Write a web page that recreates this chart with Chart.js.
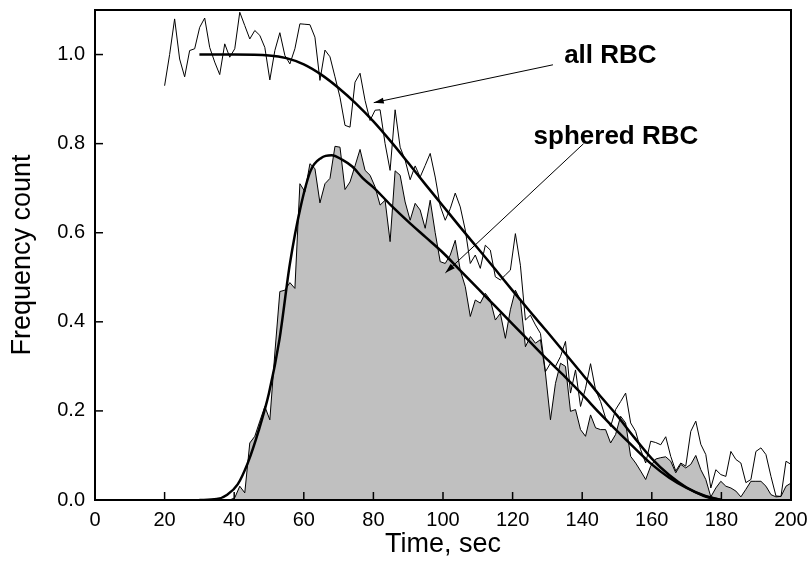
<!DOCTYPE html>
<html>
<head>
<meta charset="utf-8">
<script src="https://cdn.jsdelivr.net/npm/chart.js@4.4.1/dist/chart.umd.min.js"></script>
<style>
  html, body { margin: 0; padding: 0; background: #fff; }
</style>
</head>
<body>
<canvas id="myChart" width="810" height="562"></canvas>
<script>
// 측정 시간 (sec)
const times = [
  20.00, 21.44, 22.88, 24.32, 25.76, 27.20, 28.64, 30.08, 31.52, 32.96,
  34.40, 35.84, 37.28, 38.72, 40.16, 41.60, 43.04, 44.48, 45.92, 47.36,
  48.80, 50.24, 51.68, 53.12, 54.56, 56.00, 57.44, 58.88, 60.32, 61.76,
  63.20, 64.64, 66.08, 67.52, 68.96, 70.40, 71.84, 73.28, 74.72, 76.16,
  77.60, 79.04, 80.48, 81.92, 83.36, 84.80, 86.24, 87.68, 89.12, 90.56,
  92.00, 93.44, 94.88, 96.32, 97.76, 99.20, 100.64, 102.08, 103.52, 104.96,
  106.40, 107.84, 109.28, 110.72, 112.16, 113.60, 115.04, 116.48, 117.92, 119.36,
  120.80, 122.24, 123.68, 125.12, 126.56, 128.00, 129.44, 130.88, 132.32, 133.76,
  135.20, 136.64, 138.08, 139.52, 140.96, 142.40, 143.84, 145.28, 146.72, 148.16,
  149.60, 151.04, 152.48, 153.92, 155.36, 156.80, 158.24, 159.68, 161.12, 162.56,
  164.00, 165.44, 166.88, 168.32, 169.76, 171.20, 172.64, 174.08, 175.52, 176.96,
  178.40, 179.84, 181.28, 182.72, 184.16, 185.60, 187.04, 188.48, 189.92, 191.36,
  192.80, 194.24, 195.68, 197.12, 198.56, 200.00
];

// all RBC (noisy)
const allRbc = [
  0.93, 1.0, 1.08, 0.99, 0.95, 1.009, 1.013, 1.061, 1.082, 1.016,
  0.983, 0.955, 1.024, 0.994, 1.013, 1.095, 1.065, 1.035, 1.054, 1.043,
  1.016, 0.943, 1.009, 1.049, 0.998, 0.979, 1.013, 1.069, 1.068, 1.067,
  1.039, 0.942, 1.01, 0.995, 0.95, 0.904, 0.841, 0.837, 0.938, 0.958,
  0.897, 0.852, 0.875, 0.876, 0.80, 0.74, 0.876, 0.792, 0.763, 0.719,
  0.75, 0.725, 0.751, 0.778, 0.725, 0.66, 0.628, 0.654, 0.689, 0.658,
  0.606, 0.531, 0.55, 0.52, 0.572, 0.561, 0.501, 0.494, 0.505, 0.516,
  0.598, 0.527, 0.404, 0.415, 0.393, 0.374, 0.288, 0.307, 0.30, 0.322,
  0.356, 0.24, 0.292, 0.21, 0.251, 0.306, 0.247, 0.221, 0.184, 0.165,
  0.203, 0.221, 0.24, 0.173, 0.154, 0.113, 0.083, 0.132, 0.129, 0.124,
  0.142, 0.098, 0.065, 0.083, 0.076, 0.154, 0.177, 0.125, 0.102, 0.027,
  0.068, 0.057, 0.053, 0.109, 0.091, 0.083, 0.039, 0.046, 0.109, 0.117,
  0.102, 0.053, 0.009, 0.008, 0.087, 0.08
];

// sphered RBC (noisy, 회색 영역)
const spheredRbc = [
  0, 0, 0, 0, 0, 0, 0, 0, 0, 0,
  0, 0, 0, 0, 0.005, 0.031, 0.016, 0.128, 0.143, 0.177,
  0.21, 0.18, 0.33, 0.468, 0.471, 0.488, 0.475, 0.71, 0.692, 0.755,
  0.744, 0.667, 0.71, 0.722, 0.794, 0.792, 0.697, 0.714, 0.75, 0.787,
  0.74, 0.729, 0.703, 0.662, 0.673, 0.58, 0.739, 0.729, 0.669, 0.628,
  0.666, 0.651, 0.61, 0.673, 0.60, 0.535, 0.531, 0.55, 0.583, 0.516,
  0.479, 0.412, 0.449, 0.442, 0.464, 0.449, 0.404, 0.419, 0.363, 0.427,
  0.471, 0.449, 0.344, 0.367, 0.352, 0.36, 0.285, 0.18, 0.262, 0.307,
  0.30, 0.199, 0.203, 0.158, 0.143, 0.191, 0.162, 0.158, 0.158, 0.128,
  0.147, 0.188, 0.173, 0.098, 0.083, 0.065, 0.046, 0.076, 0.092, 0.095,
  0.097, 0.087, 0.061, 0.08, 0.072, 0.08, 0.1, 0.068, 0.046, 0.007,
  0.027, 0.042, 0.031, 0.027, 0.02, 0.007, 0.024, 0.042, 0.042, 0.042,
  0.031, 0.012, 0.007, 0.008, 0.031, 0.038
];

// 피팅 곡선
const fitAllTimes = [30, 40, 50, 55, 60, 65, 70, 75, 80, 85, 90, 95, 100, 105, 110, 115, 120,
  125, 130, 135, 140, 145, 150, 155, 160, 165, 170, 175, 180];
const fitAll = [1.0, 1.0, 0.998, 0.992, 0.978, 0.955, 0.925, 0.89, 0.85, 0.805, 0.757, 0.708,
  0.66, 0.612, 0.565, 0.518, 0.47, 0.423, 0.377, 0.33, 0.283, 0.235, 0.19, 0.14, 0.093,
  0.056, 0.028, 0.009, 0.0];

const fitSphTimes = [30, 35, 38, 41, 44, 47, 50, 53, 56, 59, 62, 65, 68, 71, 74, 77, 80, 85, 90,
  95, 100, 105, 110, 115, 120, 125, 130, 135, 140, 145, 150, 155, 160, 165, 170, 175, 180];
const fitSph = [0, 0.002, 0.012, 0.035, 0.085, 0.155, 0.24, 0.36, 0.53, 0.655, 0.74, 0.768,
  0.774, 0.764, 0.748, 0.722, 0.702, 0.662, 0.625, 0.59, 0.555, 0.515, 0.475, 0.435, 0.395,
  0.355, 0.315, 0.277, 0.237, 0.195, 0.155, 0.117, 0.08, 0.05, 0.027, 0.01, 0];

// 눈금
const xTicks = [0, 20, 40, 60, 80, 100, 120, 140, 160, 180, 200];
const yTicks = [0, 0.2, 0.4, 0.6, 0.8, 1.0];

// 라벨 + 화살표 (데이터 좌표)
const notes = [
  { text: 'all RBC', at: [148.1, 0.997], from: [131.6, 0.977], to: [80.1, 0.892] },
  { text: 'sphered RBC', at: [149.7, 0.816], from: [140.4, 0.80], to: [100.7, 0.51] }
];

function pts(xs, ys) {
  return xs.map(function (x, i) { return { x: x, y: ys[i] }; });
}

const FONT = "'Liberation Sans', Arial, sans-serif";

const framePlugin = {
  id: 'frame',
  afterDatasetsDraw(chart) {
    const ctx = chart.ctx;
    const a = chart.chartArea;
    const xs = chart.scales.x;
    const ys = chart.scales.y;
    ctx.save();
    ctx.strokeStyle = '#000';
    ctx.lineWidth = 1.5;
    // 안쪽 눈금
    xs.ticks.forEach(function (t) {
      const p = xs.getPixelForValue(t.value);
      ctx.beginPath();
      ctx.moveTo(p, a.bottom);
      ctx.lineTo(p, a.bottom - 8);
      ctx.stroke();
    });
    ys.ticks.forEach(function (t) {
      const p = ys.getPixelForValue(t.value);
      ctx.beginPath();
      ctx.moveTo(a.left, p);
      ctx.lineTo(a.left + 8, p);
      ctx.stroke();
    });
    ctx.lineWidth = 2;
    ctx.strokeRect(a.left, a.top, a.right - a.left, a.bottom - a.top);

    // 주석
    notes.forEach(function (n) {
      const x1 = xs.getPixelForValue(n.from[0]), y1 = ys.getPixelForValue(n.from[1]);
      const x2 = xs.getPixelForValue(n.to[0]), y2 = ys.getPixelForValue(n.to[1]);
      ctx.lineWidth = 1;
      ctx.beginPath();
      ctx.moveTo(x1, y1);
      ctx.lineTo(x2, y2);
      ctx.stroke();
      const ang = Math.atan2(y2 - y1, x2 - x1);
      const len = 10, w = 3;
      ctx.beginPath();
      ctx.moveTo(x2, y2);
      ctx.lineTo(x2 - len * Math.cos(ang) + w * Math.sin(ang), y2 - len * Math.sin(ang) - w * Math.cos(ang));
      ctx.lineTo(x2 - len * Math.cos(ang) - w * Math.sin(ang), y2 - len * Math.sin(ang) + w * Math.cos(ang));
      ctx.closePath();
      ctx.fillStyle = '#000';
      ctx.fill();
      ctx.font = 'bold 26px ' + FONT;
      ctx.textAlign = 'center';
      ctx.textBaseline = 'middle';
      ctx.fillText(n.text, xs.getPixelForValue(n.at[0]), ys.getPixelForValue(n.at[1]));
    });
    ctx.restore();
  }
};

const ctx = document.getElementById('myChart');

new Chart(ctx, {
  type: 'line',
  data: {
    datasets: [
      {
        label: 'all RBC fit',
        data: pts(fitAllTimes, fitAll),
        borderColor: '#000',
        borderWidth: 2.5,
        pointRadius: 0,
        cubicInterpolationMode: 'monotone',
        fill: false,
        order: 1
      },
      {
        label: 'sphered RBC fit',
        data: pts(fitSphTimes, fitSph),
        borderColor: '#000',
        borderWidth: 2.5,
        pointRadius: 0,
        cubicInterpolationMode: 'monotone',
        fill: false,
        order: 2
      },
      {
        label: 'all RBC',
        data: pts(times, allRbc),
        borderColor: '#000',
        borderWidth: 1,
        pointRadius: 0,
        tension: 0,
        fill: false,
        order: 3
      },
      {
        label: 'sphered RBC',
        data: pts(times, spheredRbc),
        borderColor: '#000',
        borderWidth: 1,
        backgroundColor: '#c0c0c0',
        pointRadius: 0,
        tension: 0,
        fill: 'origin',
        order: 4
      }
    ]
  },
  options: {
    responsive: false,
    animation: false,
    layout: { padding: { top: 10, right: 19, left: 0, bottom: 0 } },
    plugins: {
      legend: { display: false },
      tooltip: { enabled: false }
    },
    scales: {
      x: {
        type: 'linear',
        min: 0,
        max: 200,
        afterBuildTicks: function (s) { s.ticks = xTicks.map(function (v) { return { value: v }; }); },
        afterFit: function (s) {
          s.height = 62;
          s.paddingLeft = 0; s.paddingRight = 0; s.paddingTop = 0; s.paddingBottom = 0;
        },
        grid: { display: false, drawTicks: false },
        border: { display: false },
        ticks: {
          color: '#000',
          font: { family: FONT, size: 20 },
          padding: 8,
          maxRotation: 0,
          callback: function (v) { return v; }
        },
        title: {
          display: true,
          text: 'Time, sec',
          color: '#000',
          font: { family: FONT, size: 27 },
          padding: { top: 0, bottom: 1 }
        }
      },
      y: {
        type: 'linear',
        min: 0,
        max: 1.1,
        afterBuildTicks: function (s) { s.ticks = yTicks.map(function (v) { return { value: v }; }); },
        afterFit: function (s) {
          s.width = 95;
          s.paddingLeft = 0; s.paddingRight = 0; s.paddingTop = 0; s.paddingBottom = 0;
        },
        grid: { display: false, drawTicks: false },
        border: { display: false },
        ticks: {
          color: '#000',
          font: { family: FONT, size: 20 },
          padding: 10,
          callback: function (v) { return v.toFixed(1); }
        },
        title: {
          display: true,
          text: 'Frequency count',
          color: '#000',
          font: { family: FONT, size: 27 },
          padding: { top: 6, bottom: 0 }
        }
      }
    }
  },
  plugins: [framePlugin]
});
</script>
</body>
</html>
